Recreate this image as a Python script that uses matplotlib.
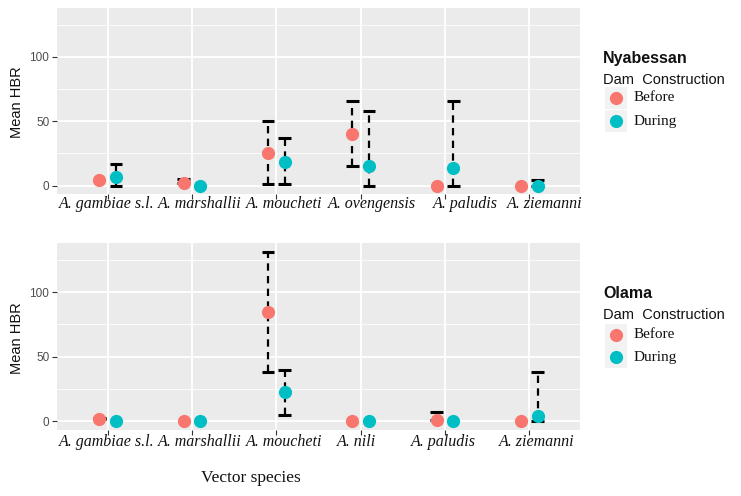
import matplotlib
matplotlib.use("Agg")
import matplotlib.pyplot as plt
from matplotlib.patches import Rectangle
from matplotlib.lines import Line2D
import numpy as np

# ---------------- data ----------------
species_nyabessan = ["A. gambiae s.l.", "A. marshallii", "A. moucheti",
                     "A. ovengensis", "A. paludis", "A. ziemanni"]
nya_before_mean = [4, 2, 25, 40, 0, 0]
nya_before_low = [4, 2, 1, 15, 0, 0]
nya_before_high = [4, 5, 50, 66, 0, 0]
nya_during_mean = [7, 0, 18, 15, 14, 0]
nya_during_low = [0, 0, 1, 0, 0, 0]
nya_during_high = [17, 0, 37, 58, 66, 4]

species_olama = ["A. gambiae s.l.", "A. marshallii", "A. moucheti",
                 "A. nili", "A. paludis", "A. ziemanni"]
ola_before_mean = [2, 0, 85, 0, 1, 0]
ola_before_low = [2, 0, 38, 0, 1, 0]
ola_before_high = [3, 0, 131, 0, 7, 0]
ola_during_mean = [0, 0, 23, 0, 0, 4]
ola_during_low = [0, 0, 5, 0, 0, 0]
ola_during_high = [0, 0, 40, 0, 0, 38]

groups = ["Before", "During"]
colors = ["#F8766D", "#00BFC4"]
yticks = [0, 50, 100]

# layout (label nudges, as in the pasted labels of the original)
nya_label_nudge = [-0.01, 0.09, 0.09, 0.13, 0.24, 0.18]
ola_label_nudge = [-0.01, 0.09, 0.09, -0.05, -0.02, 0.09]

W, H = 741, 496
fig = plt.figure(figsize=(W / 100, H / 100), dpi=100)


def fx(x):
    return x / W


def fy(y):
    return 1 - y / H


SANS = ["Liberation Sans", "DejaVu Sans"]
SERIF = ["Liberation Serif", "DejaVu Serif"]

ylo, yhi = -6.6, 138.0


def panel(rect, species, bm, bl, bh, dm, dl, dh, nudge, label_off):
    ax = fig.add_axes(rect)
    ax.set_facecolor("#EBEBEB")
    for s in ax.spines.values():
        s.set_visible(False)
    n = len(species)
    x = np.arange(n)
    ax.set_xlim(-0.6, n - 1 + 0.6)
    ax.set_ylim(ylo, yhi)
    ax.set_yticks(yticks)
    ax.set_yticks([25, 75, 125], minor=True)
    ax.set_xticks(x)
    ax.set_xticklabels([""] * n)
    ax.grid(True, which="major", color="white", lw=1.3)
    ax.grid(True, which="minor", axis="y", color="white", lw=0.6)
    ax.set_axisbelow(True)
    ax.tick_params(axis="both", which="major", length=3.5, width=0.8,
                   color="#333333", labelcolor="#4D4D4D", labelsize=8.5, pad=2)
    ax.tick_params(axis="y", which="minor", length=0)
    for lab in ax.get_yticklabels():
        lab.set_family(SANS)

    dodge = 0.1
    cap = 0.075
    dash = (0, (3.3, 2.4))
    for means, lows, highs, col, off in [(bm, bl, bh, colors[0], -dodge),
                                         (dm, dl, dh, colors[1], dodge)]:
        xs = x + off
        lows = np.array(lows)
        highs = np.array(highs)
        has = highs > lows
        ax.vlines(xs[has], lows[has], highs[has], colors="black", lw=1.6,
                  linestyles=dash, zorder=2)
        ax.hlines(lows[has], xs[has] - cap, xs[has] + cap, colors="black",
                  lw=2.2, zorder=2)
        ax.hlines(highs[has], xs[has] - cap, xs[has] + cap, colors="black",
                  lw=2.2, zorder=2)
        ax.plot(xs, means, "o", color=col, ms=9.5, mec="none", zorder=3,
                clip_on=False)

    trans = matplotlib.transforms.blended_transform_factory(ax.transData,
                                                            ax.transAxes)
    for i, name in enumerate(species):
        ax.text(i + nudge[i], label_off, name, transform=trans, ha="center",
                va="center", family=SERIF, style="italic", fontsize=11.5,
                color="#111111")
    return ax


ax1 = panel([fx(57), fy(194), fx(580) - fx(57), fy(8) - fy(194)],
            species_nyabessan, nya_before_mean, nya_before_low, nya_before_high,
            nya_during_mean, nya_during_low, nya_during_high,
            nya_label_nudge, -10 / 186)
ax2 = panel([fx(57), fy(430), fx(580) - fx(57), fy(243) - fy(430)],
            species_olama, ola_before_mean, ola_before_low, ola_before_high,
            ola_during_mean, ola_during_low, ola_during_high,
            ola_label_nudge, -12 / 187)

# y labels
for yc in (102, 338):
    fig.text(fx(17), fy(yc), "Mean HBR", rotation=90, ha="center",
             va="center", family=SANS, fontsize=10.5, color="#111111")

# x label
fig.text(fx(251), fy(478), "Vector species", ha="center", va="center",
         family=SERIF, fontsize=12.5, color="#111111")


# legends
def legend(title, y_title, y_sub, y_b, y_d):
    fig.text(fx(603), fy(y_title), title, ha="left", va="center",
             family=SANS, fontweight="bold", fontsize=11.5, color="#111111")
    fig.text(fx(603), fy(y_sub), "Dam  Construction", ha="left",
             va="center", family=SANS, fontsize=10.5, color="#111111")
    for yc, lab, col in [(y_b, groups[0], colors[0]), (y_d, groups[1], colors[1])]:
        fig.add_artist(Rectangle((fx(605), fy(yc + 11)), fx(22), 22 / H,
                                 transform=fig.transFigure, facecolor="#F2F2F2",
                                 edgecolor="none"))
        fig.add_artist(Line2D([fx(616)], [fy(yc)], marker="o", ms=9.5,
                              color=col, mec="none",
                              transform=fig.transFigure))
        fig.text(fx(634), fy(yc), lab, ha="left", va="center", family=SERIF,
                 fontsize=11, color="#111111")


legend("Nyabessan", 59, 80, 98, 121)
legend("Olama", 293, 315, 335, 357)

fig.savefig("out.png", dpi=100)
